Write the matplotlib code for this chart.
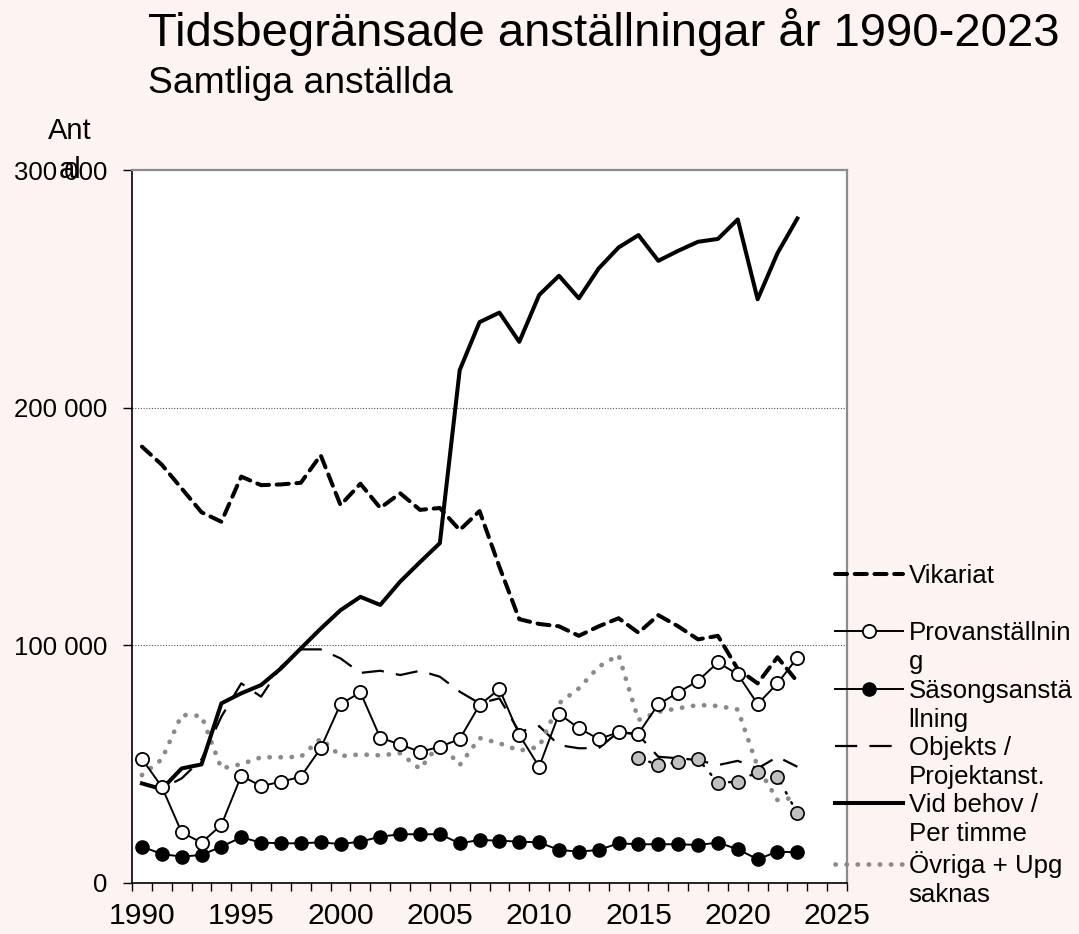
import matplotlib
matplotlib.use("Agg")
import matplotlib.pyplot as plt
import numpy as np

# =========================
# DATA (thousands of employees)
# =========================
years = list(range(1990, 2024))

vikariat = [183.6, 176, 166, 156, 152, 171, 167.4, 167.7, 168.4, 180,
            159, 168, 157.8, 164, 157, 157.8, 148.5, 156.5, 133, 111,
            109, 108, 104, 108, 111.4, 105.3, 112.7, 108, 102.5, 104,
            90, 84, 95, 84.7]
prov = [52.2, 40.5, 21.3, 17, 24.4, 45.1, 40.8, 42.6, 44.7, 56.7,
        75.3, 80.2, 61.1, 58.3, 55.2, 57.3, 60.6, 74.9, 81.6, 62.3,
        48.9, 71.2, 65.1, 60.6, 63.4, 62.9, 75.2, 80.1, 85.1, 92.8,
        87.8, 75.3, 84, 94.8]
sasong = [15.3, 12.2, 11.1, 11.8, 15.3, 19.2, 17, 16.7, 16.7, 17.1,
          16.4, 17.4, 19.5, 20.5, 20.5, 20.5, 16.7, 18.1, 17.8, 17.4,
          17.1, 13.9, 13.2, 13.9, 16.7, 16.3, 16.3, 16.3, 16, 17,
          14.2, 10, 13.2, 12.9]
objekts = [41.9, 39.8, 44, 52, 70, 84, 78.4, 91, 98.3, 98.3,
           94.5, 88.4, 89.3, 87.5, 89.3, 86.8, 80.5, 75.6, 77.7, 63.6,
           66, 58, 56.7, 56.7, 63.6, 62.3, 53.1, 52.5, 51.7, 49.6,
           51.4, 48.2, 53.1, 48.9]
vid_behov = [41.9, 39.5, 48.2, 49.9, 75.6, 79.8, 83.3, 90.3, 98.7, 107,
             114.8, 120.4, 117, 126.8, 135, 143, 215.8, 236, 240, 227.7,
             247.4, 255.5, 246, 258.6, 267.4, 272.6, 261.8, 266, 269.8, 271,
             279.2, 245.6, 265, 279.6]
ovriga = [45.4, 52, 70.7, 70.3, 48.2, 50, 52.9, 52.9, 53.1, 60.8,
          53.4, 54.1, 53.7, 54.6, 48, 58.8, 49.6, 61, 58.8, 55.7,
          57.3, 75.6, 81.9, 91, 95.9, 68.6, 72, 73.5, 74.9, 74.5,
          73, 48.9, 34.9, 36]

# unlabeled series, 2015-2023 only
years_grey = list(range(2015, 2024))
grey_series = [52.7, 49.6, 50.8, 52.2, 42.2, 42.6, 46.8, 44.7, 29.3]

labels = ["Vikariat", "Provanställnin\ng", "Säsongsanstä\nllning",
          "Objekts /\nProjektanst.", "Vid behov /\nPer timme", "Övriga + Upg\nsaknas"]

y_ticks = [0, 100000, 200000, 300000]
y_ticklabels = ["0", "100 000", "200 000", "300 000"]
x_labels = [1990, 1995, 2000, 2005, 2010, 2015, 2020, 2025]


def k(vals):
    return np.array(vals) * 1000


# =========================
# FIGURE
# =========================
plt.rcParams["font.family"] = ["Liberation Sans", "DejaVu Sans"]
bg = "#fdf3f1"
fig = plt.figure(figsize=(10.79, 9.34), dpi=100, facecolor=bg)
ax = fig.add_axes([132 / 1079, 1 - 883 / 934, 715 / 1079, 713 / 934])
ax.set_facecolor("white")

l_vik, = ax.plot(years, k(vikariat), color="black", lw=2.9,
                 linestyle=(0, (3.0, 1.9)), dash_capstyle="round")
l_obj, = ax.plot(years, k(objekts), color="black", lw=1.6,
                 linestyle=(0, (10, 5.5)))
l_ovr, = ax.plot(years, k(ovriga), color="#8a8a8a", lw=3.4,
                 linestyle=(0, (0.05, 2.3)), dash_capstyle="round")
l_vid, = ax.plot(years, k(vid_behov), color="black", lw=2.9)
l_sas, = ax.plot(years, k(sasong), color="black", lw=1.4, marker="o",
                 markersize=9.5, markerfacecolor="black", markeredgecolor="black")
l_prov, = ax.plot(years, k(prov), color="black", lw=1.4, marker="o",
                  markersize=9.5, markerfacecolor="white", markeredgecolor="black",
                  markeredgewidth=1.3)
ax.plot(years_grey, k(grey_series), color="black", lw=1.8,
        linestyle=(0, (0.6, 4)), dash_capstyle="round", marker="o",
        markersize=9.5, markerfacecolor="#c0c0c0", markeredgecolor="black",
        markeredgewidth=1.2)

# axes
ax.set_xlim(1989.5, 2025.5)
ax.set_ylim(0, 300000)
ax.set_xticks(x_labels)
ax.set_xticklabels([str(v) for v in x_labels], fontsize=21.7)
ax.set_xticks(np.arange(1989.5, 2026, 1), minor=True)
ax.tick_params(axis="x", which="major", length=0, pad=13.5)
ax.tick_params(axis="x", which="minor", length=6, width=1, direction="out")
ax.set_yticks(y_ticks)
ax.set_yticklabels(y_ticklabels, fontsize=18.5)
ax.tick_params(axis="y", length=6.5, width=1, direction="out", pad=11)

for y in [100000, 200000]:
    ax.axhline(y, color="#555555", lw=0.8, linestyle=(0, (1, 1.5)), zorder=0.5)

ax.spines["left"].set_color("black")
ax.spines["bottom"].set_color("black")
ax.spines["left"].set_linewidth(1.2)
ax.spines["bottom"].set_linewidth(1.2)
ax.spines["top"].set_color("#8c8c8c")
ax.spines["right"].set_color("#8c8c8c")
ax.spines["top"].set_linewidth(1.6)
ax.spines["right"].set_linewidth(1.6)

# titles
fig.text(148 / 1079, 1 - 46 / 934, "Tidsbegränsade anställningar år 1990-2023",
         fontsize=34, va="baseline", ha="left")
fig.text(148 / 1079, 1 - 93 / 934, "Samtliga anställda",
         fontsize=26.8, va="baseline", ha="left")
fig.text(70 / 1079, 1 - 178 / 934, "Ant\nal", fontsize=21, ha="center",
         va="baseline", linespacing=1.5)

# =========================
# LEGEND
# =========================
handles = [l_vik, l_prov, l_sas, l_obj, l_vid, l_ovr]
first_lines = [s.split("\n")[0] for s in labels]
leg = fig.legend(handles, first_lines, loc="upper left",
                 bbox_to_anchor=(835 / 1079, 1 - 564 / 934),
                 frameon=False, fontsize=18.6, borderpad=0, borderaxespad=0,
                 handlelength=2.65, handletextpad=0.2, labelspacing=1.29,
                 numpoints=1)
for txt, full in zip(leg.get_texts(), labels):
    parts = full.split("\n")
    if len(parts) > 1:
        fig.add_artist(plt.Annotation(
            parts[1], xy=(0, 0), xycoords=txt, xytext=(0, -24),
            textcoords="offset pixels", fontsize=18.6, va="baseline",
            ha="left", zorder=10))

fig.savefig("out.png", dpi=100, facecolor=bg)
